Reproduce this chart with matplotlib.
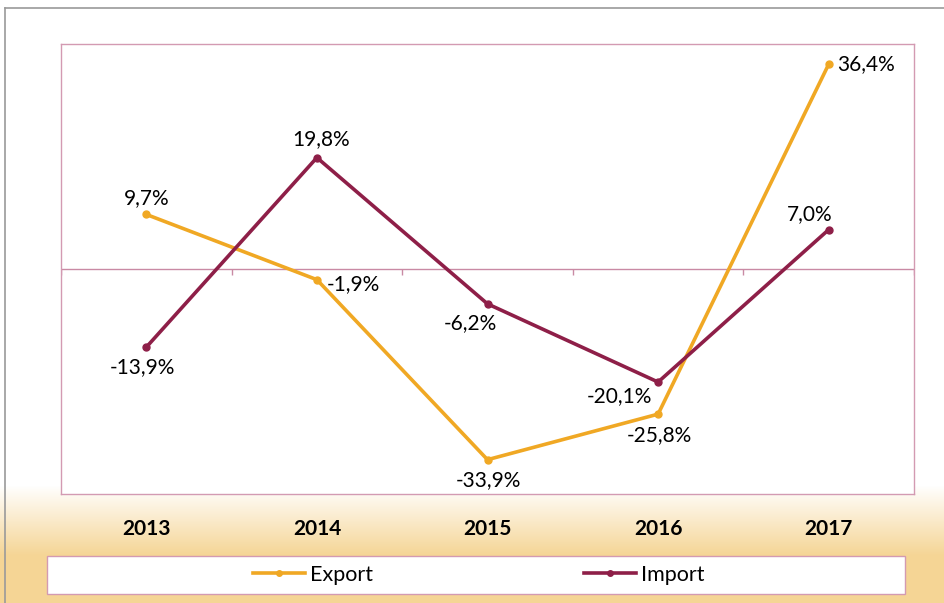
import numpy as np
import matplotlib.pyplot as plt
from matplotlib.patches import Rectangle
from matplotlib.lines import Line2D

# data
years = ['2013', '2014', '2015', '2016', '2017']
export = [9.7, -1.9, -33.9, -25.8, 36.4]
imports = [-13.9, 19.8, -6.2, -20.1, 7.0]

# label placement (offset in points, horizontal alignment)
export_pos = [((0, 12), 'center'), ((7, -3), 'left'), ((1, -15), 'center'), ((1, -15), 'center'), ((6, 0), 'left')]
import_pos = [((-3, -14), 'center'), ((3, 13), 'center'), ((-12, -14), 'center'), ((-4, -10), 'right'), ((-14, 11), 'center')]

c_exp = '#F0A824'
c_imp = '#8E1F48'
c_frame = '#D39AB2'

plt.rcParams['font.family'] = ['Lato', 'DejaVu Sans']

fig = plt.figure(figsize=(9.44, 6.03), dpi=100)

# background gradient at the bottom
bg = fig.add_axes([0, 0, 1, 1], zorder=-10)
bg.axis('off')
H = 603
grad = np.ones((H, 1, 3))
top_col = np.array([1.0, 1.0, 1.0])
bot_col = np.array([0xF5, 0xD5, 0x95]) / 255
for r in range(H):
    if r > 485:
        t = min(1.0, (r - 485) / 70.0)
        grad[r, 0] = top_col * (1 - t) + bot_col * t
bg.imshow(grad, aspect='auto', extent=[0, 1, 0, 1], transform=bg.transAxes)
bg.set_xlim(0, 1)
bg.set_ylim(0, 1)

# outer border
fig.add_artist(Line2D([5 / 944, 1], [1 - 8 / 603, 1 - 8 / 603], color='#9A9A9A', lw=1.2))
fig.add_artist(Line2D([5 / 944, 5 / 944], [0, 1 - 8 / 603], color='#9A9A9A', lw=1.2))

ax = fig.add_axes([61 / 944, 1 - 494 / 603, 853 / 944, 450 / 603])
ax.set_facecolor('white')
x = np.arange(len(years))
ax.set_xlim(-0.5, len(years) - 0.5)
ax.set_ylim(-40, 40)
for s in ax.spines.values():
    s.set_color(c_frame)
    s.set_linewidth(1.0)

ax.axhline(0, color='#C98AA4', lw=1.0, zorder=1)
ax.vlines(np.arange(len(years) + 1) - 0.5, -1.0, 0, color='#C98AA4', lw=1.0, zorder=1)

ax.plot(x, export, color=c_exp, lw=2.6, marker='o', markersize=5, zorder=3, label='Export')
ax.plot(x, imports, color=c_imp, lw=2.6, marker='o', markersize=5, zorder=4, label='Import')

for i in range(len(years)):
    off, ha = export_pos[i]
    ax.annotate(f'{export[i]:.1f}%'.replace('.', ','), (x[i], export[i]), xytext=off,
                textcoords='offset points', ha=ha, va='center', fontsize=15, color='black')
    off, ha = import_pos[i]
    ax.annotate(f'{imports[i]:.1f}%'.replace('.', ','), (x[i], imports[i]), xytext=off,
                textcoords='offset points', ha=ha, va='center', fontsize=15, color='black')

ax.set_yticks([])
ax.set_xticks(x)
ax.set_xticklabels(years, fontsize=15, fontweight='bold')
ax.tick_params(axis='x', length=0, pad=18)

# legend box
fig.add_artist(Rectangle((47 / 944, 1 - 594 / 603), 858 / 944, 38 / 603,
                         transform=fig.transFigure, facecolor='white', edgecolor=c_frame, lw=1.0))
h, l = ax.get_legend_handles_labels()
fig.legend(h, l, loc='center', bbox_to_anchor=(479 / 944, 1 - 575 / 603), ncol=2, frameon=False,
           fontsize=15.5, handlelength=2.4, handletextpad=0.25, columnspacing=9.8, markerscale=0.8)

plt.savefig('out.png', dpi=100)
